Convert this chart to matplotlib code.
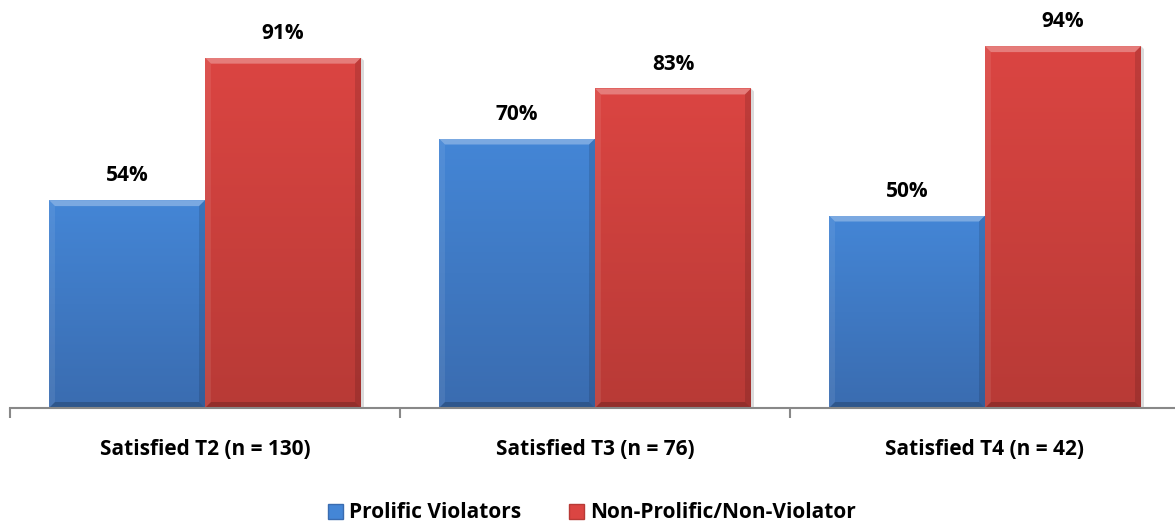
import numpy as np
import matplotlib
matplotlib.use("Agg")
import matplotlib.pyplot as plt
from matplotlib.patches import Polygon, Patch
from matplotlib.colors import LinearSegmentedColormap

plt.rcParams['font.family'] = ['Open Sans', 'DejaVu Sans']

categories = ["Satisfied T2 (n = 130)", "Satisfied T3 (n = 76)", "Satisfied T4 (n = 42)"]
series_names = ["Prolific Violators", "Non-Prolific/Non-Violator"]
prolific = [54, 70, 50]
non_prolific = [91, 83, 94]

# top / bottom shades for the gradient fill
blue_top, blue_bottom = "#4486d6", "#3a6cb0"
red_top, red_bottom = "#db4542", "#b83a36"

W, H = 1175, 529
fig = plt.figure(figsize=(W / 100, H / 100), dpi=100)
ax = fig.add_axes([10 / W, (H - 408) / H, 1170 / W, 385 / H])

x = np.arange(len(categories))
bw = 0.4
bars_a = ax.bar(x - bw / 2, prolific, bw, color=blue_top, zorder=2)
bars_b = ax.bar(x + bw / 2, non_prolific, bw, color=red_top, zorder=2)

ax.set_xlim(-0.5, len(categories) - 0.5)
ax.set_ylim(0, 100)


def bevel(ax, bars, top, bottom):
    cmap = LinearSegmentedColormap.from_list("g", [bottom, top])
    grad = np.linspace(0, 1, 256).reshape(-1, 1)
    for b in bars:
        x0, y0 = b.get_x(), b.get_y()
        w, h = b.get_width(), b.get_height()
        im = ax.imshow(grad, cmap=cmap, extent=[x0, x0 + w, y0, y0 + h],
                       origin="lower", aspect="auto", zorder=2.1)
        im.set_clip_path(b)
        # bevel edges in pixel space
        disp = ax.transData.transform([[x0, y0], [x0 + w, y0 + h]])
        (px0, py0), (px1, py1) = disp
        d = 6
        inv = ax.transData.inverted()
        def P(pts):
            return inv.transform(pts)
        faces = [
            ([[px0, py1], [px1, py1], [px1 - d, py1 - d], [px0 + d, py1 - d]], "white", 0.3),
            ([[px0, py0], [px1, py0], [px1 - d, py0 + d], [px0 + d, py0 + d]], "black", 0.2),
            ([[px0, py0], [px0, py1], [px0 + d, py1 - d], [px0 + d, py0 + d]], "white", 0.08),
            ([[px1, py0], [px1, py1], [px1 - d, py1 - d], [px1 - d, py0 + d]], "black", 0.12),
        ]
        for pts, c, a in faces:
            ax.add_patch(Polygon(P(pts), closed=True, facecolor=c, alpha=a,
                                 edgecolor="none", zorder=2.2))
        # soft shadow to the right
        ax.add_patch(Polygon(P([[px1, py0 - 2], [px1 + 3, py0 - 2], [px1 + 3, py1 - 3], [px1, py1]]),
                             closed=True, facecolor="#999999", alpha=0.35,
                             edgecolor="none", zorder=1.9))


bevel(ax, bars_a, blue_top, blue_bottom)
bevel(ax, bars_b, red_top, red_bottom)

for bars, vals in [(bars_a, prolific), (bars_b, non_prolific)]:
    for b, v in zip(bars, vals):
        ax.annotate(f"{v}%", (b.get_x() + b.get_width() / 2, v),
                    xytext=(0, 10), textcoords="offset points",
                    ha="center", va="bottom", fontsize=15, fontweight="bold")

for s in ["top", "right", "left"]:
    ax.spines[s].set_visible(False)
ax.spines["bottom"].set_color("#888888")
ax.spines["bottom"].set_linewidth(1.5)
ax.set_yticks([])
ax.set_xticks(np.arange(len(categories) + 1) - 0.5, minor=True)
ax.tick_params(axis="x", which="minor", length=7, color="#888888", width=1.5)
ax.set_xticks(x)
ax.set_xticklabels(categories, fontsize=15, fontweight="bold")
ax.tick_params(axis="x", which="major", length=0, pad=22)

handles = [Patch(facecolor=blue_top, edgecolor=blue_bottom),
           Patch(facecolor=red_top, edgecolor=red_bottom)]
fig.legend(handles, series_names, loc="center", bbox_to_anchor=(592 / W, 1 - 513 / H),
           ncol=2, frameon=False, prop={"size": 15, "weight": "bold"},
           handlelength=0.7, handleheight=0.7, handletextpad=0.3, columnspacing=2.3)

fig.savefig("out.png", dpi=100)
